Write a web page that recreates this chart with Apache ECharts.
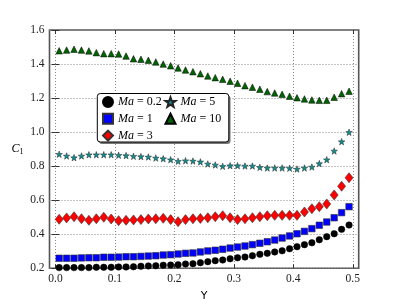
<!DOCTYPE html>
<html><head><meta charset="utf-8">
<script src="https://cdn.jsdelivr.net/npm/echarts@6/dist/echarts.min.js"></script>
<style>html,body{margin:0;padding:0;background:#fff}#c{width:399px;height:299px}</style>
</head><body><div id="c"></div>
<script>
const xs = [0.00625,0.01875,0.03125,0.04375,0.05625,0.06875,0.08125,0.09375,0.10625,0.11875,
  0.13125,0.14375,0.15625,0.16875,0.18125,0.19375,0.20625,0.21875,0.23125,0.24375,
  0.25625,0.26875,0.28125,0.29375,0.30625,0.31875,0.33125,0.34375,0.35625,0.36875,
  0.38125,0.39375,0.40625,0.41875,0.43125,0.44375,0.45625,0.46875,0.48125,0.49375];
const ma02 = [0.204,0.204,0.204,0.204,0.204,0.206,0.206,0.206,0.208,0.208,
  0.209,0.212,0.214,0.215,0.218,0.219,0.221,0.225,0.227,0.233,
  0.239,0.245,0.249,0.256,0.262,0.266,0.274,0.282,0.288,0.296,
  0.303,0.315,0.327,0.339,0.350,0.368,0.386,0.403,0.429,0.454];
const ma1 = [0.259,0.259,0.259,0.261,0.262,0.262,0.265,0.265,0.266,0.268,
  0.268,0.270,0.272,0.274,0.278,0.280,0.284,0.288,0.290,0.296,
  0.302,0.306,0.312,0.319,0.325,0.331,0.339,0.347,0.356,0.366,
  0.378,0.390,0.403,0.417,0.433,0.453,0.472,0.497,0.527,0.562];
const ma3 = [0.488,0.496,0.503,0.491,0.482,0.491,0.500,0.490,0.480,0.482,
  0.484,0.486,0.490,0.491,0.494,0.486,0.474,0.486,0.491,0.493,
  0.497,0.503,0.509,0.497,0.486,0.491,0.497,0.503,0.509,0.511,
  0.511,0.511,0.511,0.531,0.550,0.562,0.578,0.631,0.682,0.732];
const ma5 = [0.870,0.860,0.850,0.860,0.867,0.867,0.867,0.867,0.864,0.862,
  0.858,0.856,0.854,0.848,0.844,0.838,0.829,0.832,0.830,0.825,
  0.813,0.807,0.799,0.803,0.803,0.801,0.801,0.793,0.789,0.789,
  0.789,0.788,0.783,0.789,0.795,0.815,0.838,0.889,0.944,0.999];
const ma10 = [1.478,1.482,1.487,1.482,1.477,1.467,1.461,1.461,1.459,1.447,
  1.431,1.428,1.422,1.412,1.400,1.390,1.377,1.365,1.355,1.343,
  1.330,1.320,1.310,1.299,1.287,1.273,1.264,1.252,1.238,1.230,
  1.222,1.211,1.202,1.195,1.189,1.187,1.187,1.205,1.226,1.240];
const seriesNames = ['Ma = 0.2','Ma = 1','Ma = 3','Ma = 5','Ma = 10'];
const xTicks = [0.0,0.1,0.2,0.3,0.4,0.5];

const STAR = 'path://M0,-10 L2.35,-3.24 L9.51,-3.09 L3.8,1.24 L5.88,8.09 L0,4 L-5.88,8.09 L-3.8,1.24 L-9.51,-3.09 L-2.35,-3.24 Z';
const serif = 'Liberation Serif';
function pts(arr){ return xs.map((x,i)=>[x,arr[i]]); }

const chart = echarts.init(document.getElementById('c'), null, {renderer:'canvas'});
const legendText = {
  fontFamily: serif, fontSize: 12, color:'#000', lineHeight:12,
  rich:{ i:{fontFamily: serif, fontStyle:'italic', fontSize:12, color:'#000', lineHeight:12} }
};
const fmt = n => '{i|Ma} = ' + n.split('= ')[1];
chart.setOption({
  animation:false,
  backgroundColor:'#fff',
  grid:{left:49.5, right:40.3, top:30, bottom:30.7, show:true, borderColor:'#555', borderWidth:1.6,
    backgroundColor:'transparent', containLabel:false, outerBoundsMode:'none'},
  xAxis:[{
    type:'value', min:-0.01, max:0.51, position:'bottom',
    name:'Y', nameLocation:'middle', nameGap:16,
    nameTextStyle:{fontFamily:'DejaVu Sans', fontSize:11, color:'#000'},
    axisLine:{show:false},
    axisTick:{show:true, inside:true, length:4, customValues:xTicks, lineStyle:{color:'#333'}},
    axisLabel:{customValues:xTicks, fontFamily:serif, fontSize:11.5, color:'#222', margin:5,
      formatter:v=>v.toFixed(1)},
    splitLine:{show:true, customValues:xTicks, lineStyle:{color:'#888', type:[1,2], width:1}}
  },{
    type:'value', min:-0.01, max:0.51, position:'top',
    axisLine:{show:false}, axisLabel:{show:false}, splitLine:{show:false},
    axisTick:{show:true, inside:true, length:4, customValues:xTicks, lineStyle:{color:'#333'}}
  }],
  yAxis:[{
    type:'value', min:0.2, max:1.6, interval:0.2,
    name:'{c|C}{s|1}', nameLocation:'middle', nameGap:26, nameRotate:0,
    nameTextStyle:{rich:{c:{fontFamily:serif, fontStyle:'italic', fontSize:12, color:'#000'},
      s:{fontFamily:serif, fontSize:8, color:'#000', verticalAlign:'bottom', padding:[6,0,0,0]}}},
    axisLine:{show:false},
    axisTick:{show:true, inside:true, length:4, lineStyle:{color:'#333'}},
    axisLabel:{fontFamily:serif, fontSize:11.5, color:'#222', margin:5, formatter:v=>v.toFixed(1)},
    splitLine:{show:true, lineStyle:{color:'#888', type:[1,2], width:1}}
  },{
    type:'value', min:0.2, max:1.6, interval:0.2, position:'right',
    axisLine:{show:false}, axisLabel:{show:false}, splitLine:{show:false},
    axisTick:{show:true, inside:true, length:4, lineStyle:{color:'#333'}}
  }],
  graphic:[
    {type:'rect', shape:{x:99, y:95.5, width:131.5, height:48.5, r:3}, style:{fill:'#777'}, z:50},
    {type:'rect', shape:{x:97.3, y:93.5, width:131.5, height:48.5, r:3}, style:{fill:'#fff', stroke:'#000', lineWidth:1}, z:51}
  ],
  legend:[{
    data:[seriesNames[0],seriesNames[1],seriesNames[2]], orient:'vertical',
    left:102, top:96, itemWidth:10, itemHeight:10, itemGap:4.8, padding:0,
    textStyle:legendText, formatter:fmt, z:60
  },{
    data:[seriesNames[3],seriesNames[4]], orient:'vertical',
    left:164.5, top:96, itemWidth:10, itemHeight:10, itemGap:4.8, padding:0,
    textStyle:legendText, formatter:fmt, z:60
  }],
  series:[
    {name:seriesNames[0], type:'scatter', data:pts(ma02), symbol:'circle', symbolSize:6.5,
      itemStyle:{color:'#000', borderColor:'#000', borderWidth:0.5, opacity:1}, z:5},
    {name:seriesNames[1], type:'scatter', data:pts(ma1), symbol:'rect', symbolSize:6.5,
      itemStyle:{color:'#0000ff', borderColor:'#333', borderWidth:0.6, opacity:1}, z:4},
    {name:seriesNames[2], type:'scatter', data:pts(ma3), symbol:'diamond', symbolSize:[8,10],
      itemStyle:{color:'#ff0000', borderColor:'#333', borderWidth:0.6, opacity:1}, z:3},
    {name:seriesNames[3], type:'scatter', data:pts(ma5), symbol:STAR, symbolSize:6.5,
      itemStyle:{color:'#0f8f8f', borderColor:'#222', borderWidth:0.5, opacity:1}, z:2},
    {name:seriesNames[4], type:'scatter', data:pts(ma10), symbol:'triangle', symbolSize:6.5,
      itemStyle:{color:'#006400', borderColor:'#000', borderWidth:0.5, opacity:1}, z:1}
  ]
});
</script></body></html>
